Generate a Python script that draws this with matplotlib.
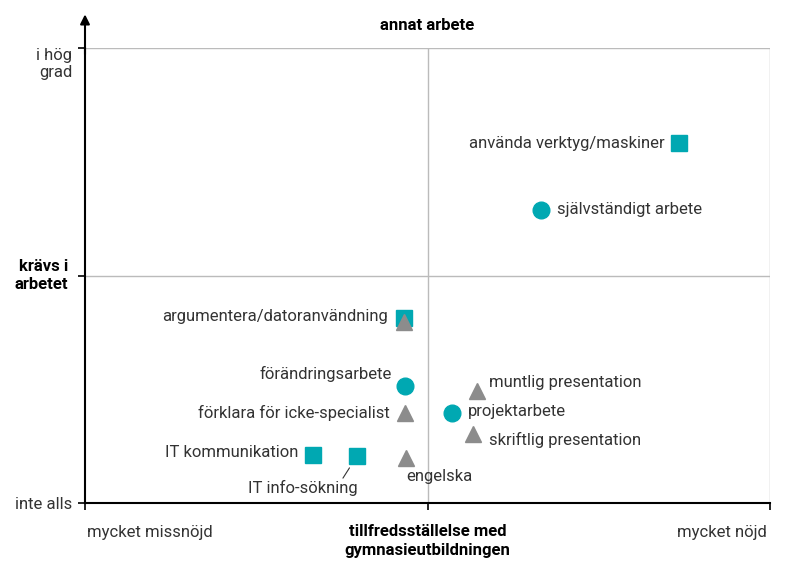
import matplotlib.pyplot as plt

plt.rcParams['font.family'] = ['Roboto', 'DejaVu Sans']

# skills: x = satisfaction with upper secondary education, y = required at work
labels = ["använda verktyg/maskiner", "självständigt arbete", "argumentera/datoranvändning",
          "argumentera/datoranvändning", "förändringsarbete", "förklara för icke-specialist",
          "IT kommunikation", "IT info-sökning", "engelska", "muntlig presentation",
          "projektarbete", "skriftlig presentation"]
x_vals = [0.867, 0.666, 0.466, 0.466, 0.467, 0.467, 0.333, 0.397, 0.469, 0.572, 0.536, 0.566]
y_vals = [0.791, 0.644, 0.407, 0.398, 0.257, 0.198, 0.105, 0.103, 0.099, 0.246, 0.198, 0.152]
kinds = ["sq", "ci", "sq", "tr", "ci", "tr", "sq", "sq", "tr", "tr", "ci", "tr"]

teal = "#00a8b2"
grey = "#8c8c8c"
style = {"sq": ("s", teal, 11), "ci": ("o", teal, 12), "tr": ("^", grey, 12)}

# label offsets in pixels and alignment
offsets = [(-14, 0, "right"), (16, 0, "left"), (-16, 1, "right"), None,
           (-13, 12, "right"), (-15, 0, "right"), (-15, 3, "right"), None,
           (0, -19, "left"), (12, 9, "left"), (16, 1, "left"), (16, -6, "left")]
fs = 12

fig = plt.figure(figsize=(7.87, 5.61), dpi=100)
ax = fig.add_axes([85 / 787, 58 / 561, 685 / 787, 455 / 561])
ax.set_xlim(0, 1)
ax.set_ylim(0, 1)

for s in ["top", "right"]:
    ax.spines[s].set_visible(False)
ax.spines["left"].set_linewidth(1.5)
ax.spines["bottom"].set_linewidth(1.5)

ax.axhline(0.5, color="#bbbbbb", lw=1)
ax.axhline(1.0, color="#bbbbbb", lw=1)
ax.axvline(0.5, color="#bbbbbb", lw=1)
ax.axvline(1.0, color="#bbbbbb", lw=1)

# arrow on y axis
ax.annotate("", xy=(0, 1.08), xytext=(0, 0.98), xycoords="axes fraction",
            arrowprops=dict(arrowstyle="-|>", color="black", lw=1.5, mutation_scale=14),
            annotation_clip=False)

ax.set_xticks([0, 0.5, 1])
ax.set_xticklabels([])
ax.tick_params(axis="x", direction="out", length=5, width=1.2)
ax.set_yticks([0, 0.5, 1])
ax.set_yticklabels(["inte alls", "", "i hög\ngrad"], fontsize=fs, color="#333333")
ax.tick_params(axis="y", direction="out", length=5, width=1.2, pad=4)
ax.get_yticklabels()[2].set_va("top")
ax.get_yticklabels()[2].set_y(1.01)
ax.text(-0.025, 0.5, "krävs i\narbetet", transform=ax.transAxes, ha="right", va="center",
        fontsize=fs, fontweight="bold", linespacing=1.3)

for x, y, k in zip(x_vals, y_vals, kinds):
    m, c, sz = style[k]
    ax.plot(x, y, marker=m, color=c, markersize=sz, linestyle="none", clip_on=False)

for lab, x, y, off in zip(labels, x_vals, y_vals, offsets):
    if off is None:
        continue
    dx, dy, ha = off
    ax.annotate(lab, (x, y), xytext=(dx, dy), textcoords="offset pixels",
                ha=ha, va="center", fontsize=fs, color="#333333")

# IT info-sökning with leader line
ax.annotate("IT info-sökning", (0.397, 0.103), xytext=(-54, -32), textcoords="offset pixels",
            ha="center", va="center", fontsize=fs, color="#333333")
ax.annotate("", (0.397, 0.103), xytext=(-14, -22), textcoords="offset pixels",
            arrowprops=dict(arrowstyle="-", color="#333333", lw=0.8, shrinkA=0, shrinkB=10))

ax.text(0.5, 1.05, "annat arbete", transform=ax.transAxes, ha="center", va="center",
        fontsize=fs, fontweight="bold")
ax.text(0.095, -0.065, "mycket missnöjd", transform=ax.transAxes, ha="center", va="center",
        fontsize=fs, color="#333333")
ax.text(0.93, -0.065, "mycket nöjd", transform=ax.transAxes, ha="center", va="center",
        fontsize=fs, color="#333333")
ax.text(0.5, -0.046, "tillfredsställelse med\ngymnasieutbildningen", transform=ax.transAxes,
        ha="center", va="top", fontsize=fs, fontweight="bold", linespacing=1.3)

fig.savefig("out.png", dpi=100)
